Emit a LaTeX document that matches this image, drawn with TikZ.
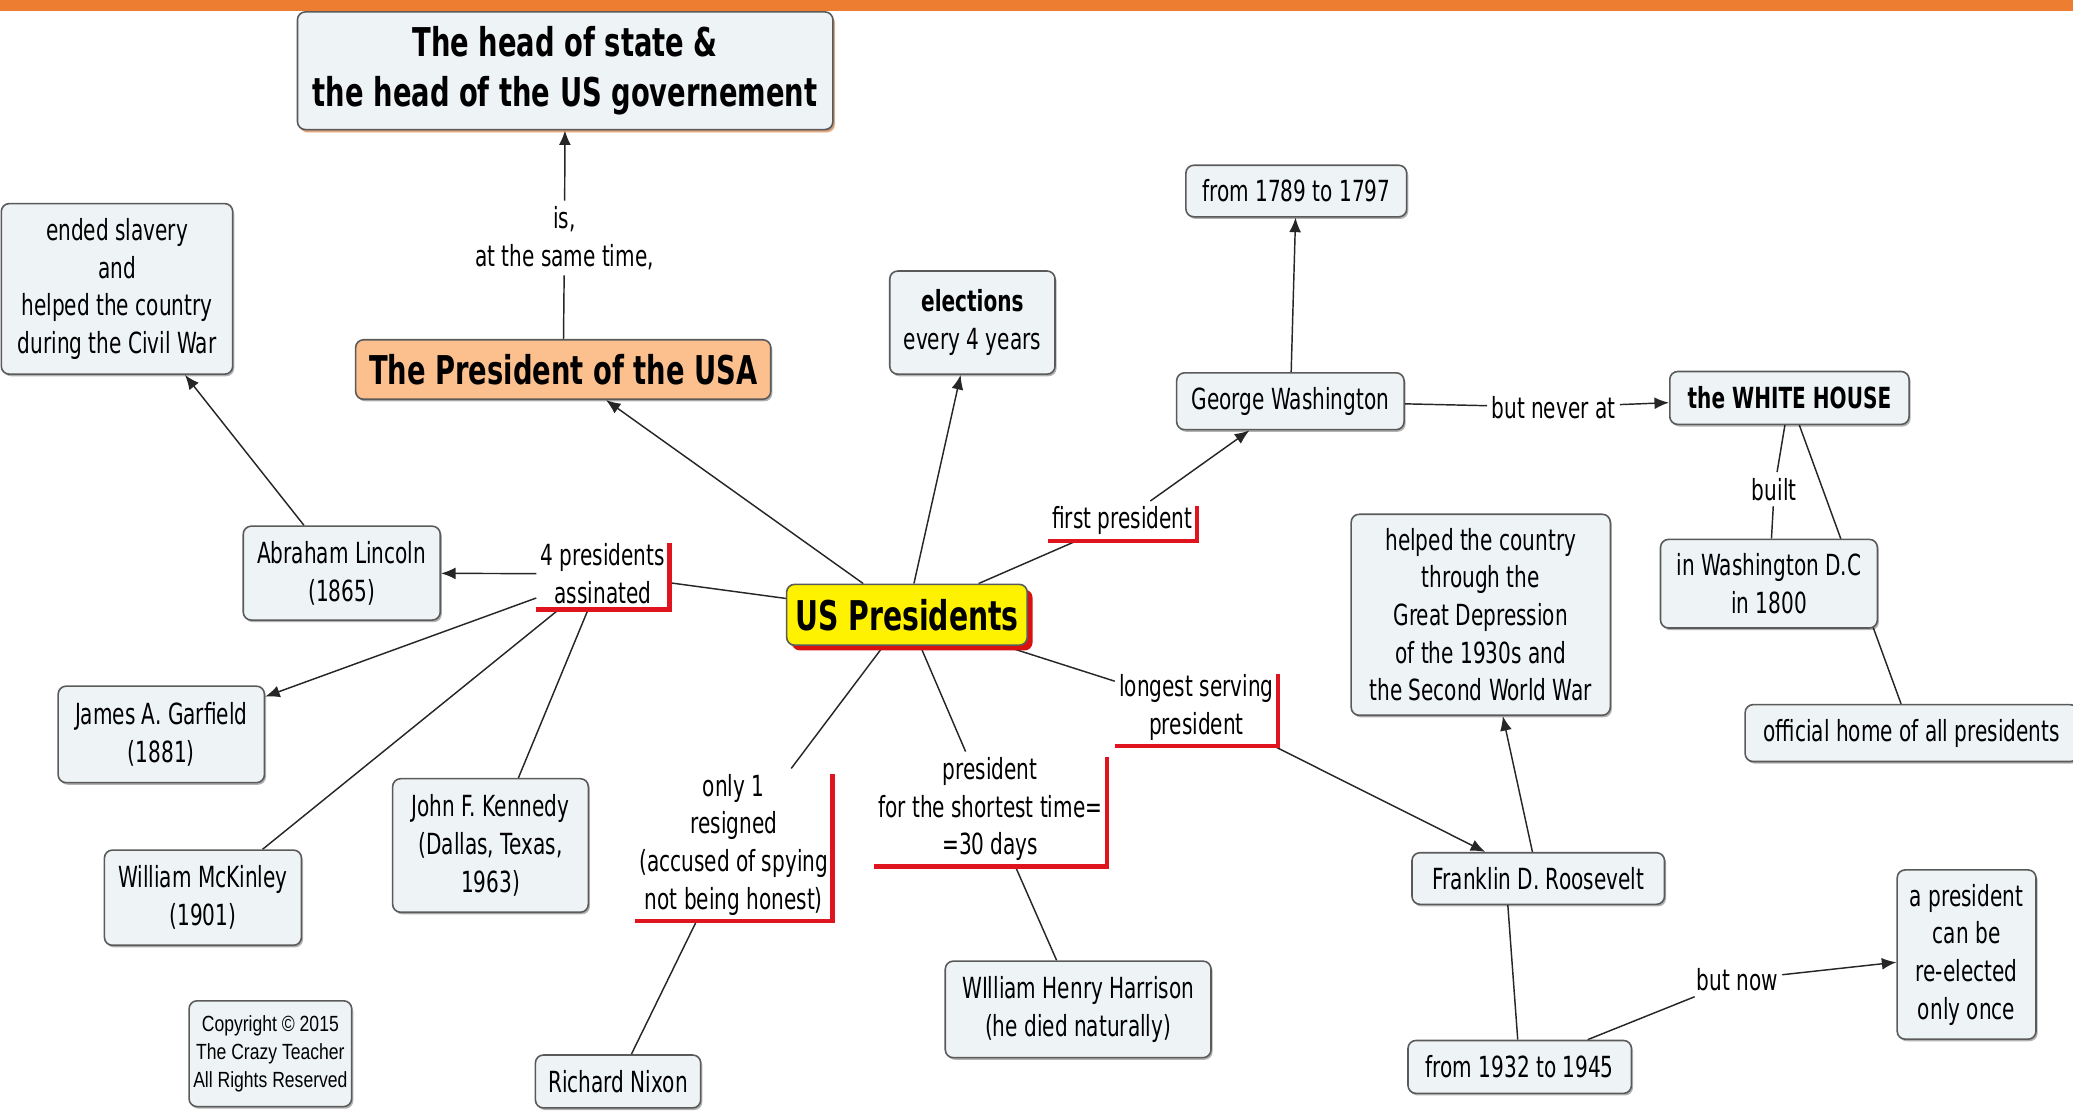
\documentclass[tikz,border=0pt]{standalone}
\usepackage{fontspec}
\setmainfont{DejaVu Sans}[FakeStretch=0.69]
\newfontfamily\copyfont{Liberation Sans}[FakeStretch=0.8]
\usetikzlibrary{arrows.meta,shadows,backgrounds}
\definecolor{boxfill}{HTML}{EEF3F6}
\definecolor{boxdraw}{HTML}{5A5A5A}
\definecolor{topbar}{HTML}{ED7D31}
\definecolor{presfill}{HTML}{FBC08E}
\definecolor{linkred}{HTML}{E0141E}
\definecolor{uspred}{HTML}{D81010}
\begin{document}
\begin{tikzpicture}[x=0.5pt,y=-0.5pt,
  concept/.style={draw=boxdraw, fill=boxfill, rounded corners=3pt, line width=0.6pt,
    align=center, inner sep=0pt, font=\fontsize{11}{14.25}\selectfont,
    drop shadow={shadow xshift=0.6pt, shadow yshift=-0.8pt, fill=black, opacity=0.3}},
  bigbold/.style={font=\fontsize{15}{19}\selectfont\bfseries},
  phrase/.style={align=center, inner xsep=1.5pt, inner ysep=2pt, font=\fontsize{11}{14.25}\selectfont},
  link/.style={draw=black!85, line width=0.55pt},
  arr/.style={link, -{Latex[length=5.5pt,width=4.5pt]}},
  redbr/.style={draw=linkred, line width=1.7pt},
]
\useasboundingbox (0,0) rectangle (1568,840);
\fill[topbar] (0,0) rectangle (1568,8);

% concepts
\node[concept, bigbold, minimum width=202.5pt, minimum height=44.5pt,
  drop shadow={shadow xshift=0.8pt, shadow yshift=-1.2pt, fill=topbar, opacity=0.45}]
  (head) at (427.5,53.5) {The head of state \&\\the head of the US governement};
\node[concept, bigbold, fill=presfill, minimum width=157pt, minimum height=22.5pt] (pres) at (426,279.5) {The President of the USA};
\node[concept, minimum width=87.5pt, minimum height=64.5pt] (lnote) at (88.5,218.5) {ended slavery\\and\\helped the country\\during the Civil War};
\node[concept, minimum width=62.5pt, minimum height=39pt] (elec) at (735.5,244) {\textbf{elections}\\every 4 years};
\node[concept, minimum width=83.5pt, minimum height=19.5pt] (f1789) at (980.5,144.5) {from 1789 to 1797};
\node[concept, minimum width=86pt, minimum height=21.5pt] (gw) at (976,303.5) {George Washington};
\node[concept, minimum width=90.5pt, minimum height=20pt] (wh) at (1353.5,301) {\textbf{the WHITE HOUSE}};
\node[concept, minimum width=82pt, minimum height=33.5pt] (wdc) at (1338,441.5) {in Washington D.C\\in 1800};
\node[concept, minimum width=126pt, minimum height=21.5pt] (official) at (1446,554.5) {official home of all presidents};
\node[concept, minimum width=98pt, minimum height=76pt] (fnote) at (1120,465) {helped the country\\through the\\Great Depression\\of the 1930s and\\the Second World War};
\node[concept, font=\fontsize{15.5}{19}\selectfont\bfseries, fill=yellow, minimum width=91pt, minimum height=23pt,
  drop shadow={shadow xshift=2pt, shadow yshift=-2pt, fill=uspred, opacity=1}] (usp) at (686,465) {US Presidents};
\node[concept, minimum width=74.5pt, minimum height=35.5pt] (lincoln) at (258.5,433.5) {Abraham Lincoln\\(1865)};
\node[concept, minimum width=78pt, minimum height=36.5pt] (garfield) at (122,555.5) {James A. Garfield\\(1881)};
\node[concept, minimum width=74.5pt, minimum height=36pt] (mckinley) at (153.5,679) {William McKinley\\(1901)};
\node[concept, minimum width=74pt, minimum height=50.5pt] (kennedy) at (371,639.5) {John F. Kennedy\\(Dallas, Texas,\\1963)};
\node[concept, minimum width=62.5pt, minimum height=20pt] (nixon) at (467.5,818) {Richard Nixon};
\node[concept, minimum width=100.5pt, minimum height=36.5pt] (harrison) at (815.5,763.5) {WIlliam Henry Harrison\\(he died naturally)};
\node[concept, minimum width=95.5pt, minimum height=19.5pt] (fdr) at (1163.5,664.5) {Franklin D. Roosevelt};
\node[concept, minimum width=84.5pt, minimum height=20pt] (f1932) at (1149.5,807) {from 1932 to 1945};
\node[concept, minimum width=52.5pt, minimum height=64pt] (reelect) at (1487.5,722) {a president\\can be\\re-elected\\only once};
\node[concept, font=\fontsize{8.3}{10.5}\copyfont, minimum width=61.5pt, minimum height=40pt] (copy) at (204.5,797) {Copyright \textcopyright{} 2015\\The Crazy Teacher\\All Rights Reserved};

% linking phrases
\node[phrase] (Lis) at (427,180) {is,\\at the same time,};
\node[phrase] (L4) at (456,434) {4 presidents\\assinated};
\node[phrase] (Lfirst) at (849,394) {first president};
\node[phrase] (Llong) at (905,535) {longest serving\\president};
\node[phrase] (Lshort) at (749,612) {president\\for the shortest time=\\=30 days};
\node[phrase] (Lonly) at (555,639) {only 1\\resigned\\(accused of spying\\not being honest)};
\node[phrase] (Lnever) at (1175,308) {but never at};
\node[phrase] (Lbuilt) at (1342,370) {built};
\node[phrase] (Lnow) at (1314,741) {but now};

% red brackets
\foreach \n in {L4,Lfirst,Llong,Lshort,Lonly}{
  \draw[redbr] (\n.south west) -- (\n.south east) -- ([yshift=-2pt]\n.north east);
}

% connectors
\begin{pgfonlayer}{background}
\draw[link] (pres) -- (Lis);
\draw[arr] (Lis) -- (head);
\draw[arr] (usp) -- (pres);
\draw[arr] (usp) -- (elec);
\draw[link] (usp) -- (L4);
\draw[arr] (L4) -- (lincoln);
\draw[arr] (L4) -- (garfield);
\draw[link] (L4) -- (mckinley);
\draw[link] (L4) -- (kennedy);
\draw[arr] (lincoln) -- (lnote);
\draw[link] (usp) -- (Lfirst);
\draw[arr] (Lfirst) -- (gw);
\draw[arr] (gw) -- (f1789);
\draw[link] (gw) -- (Lnever);
\draw[arr] (Lnever) -- (wh);
\draw[link] (wh) -- (Lbuilt);
\draw[link] (Lbuilt) -- (wdc);
\draw[link] (wh) -- (official);
\draw[link] (usp) -- (Llong);
\draw[arr] (Llong) -- (fdr);
\draw[arr] (fdr) -- (fnote);
\draw[link] ([xshift=-11.5pt]fdr.south) -- ([xshift=-0.75pt]f1932.north);
\draw[link] (f1932) -- (Lnow);
\draw[arr] (Lnow) -- (reelect);
\draw[link] (usp) -- (Lshort);
\draw[link] (Lshort) -- (harrison);
\draw[link] (usp) -- (Lonly);
\draw[link] (Lonly) -- (nixon);
\end{pgfonlayer}
\end{tikzpicture}
\end{document}
